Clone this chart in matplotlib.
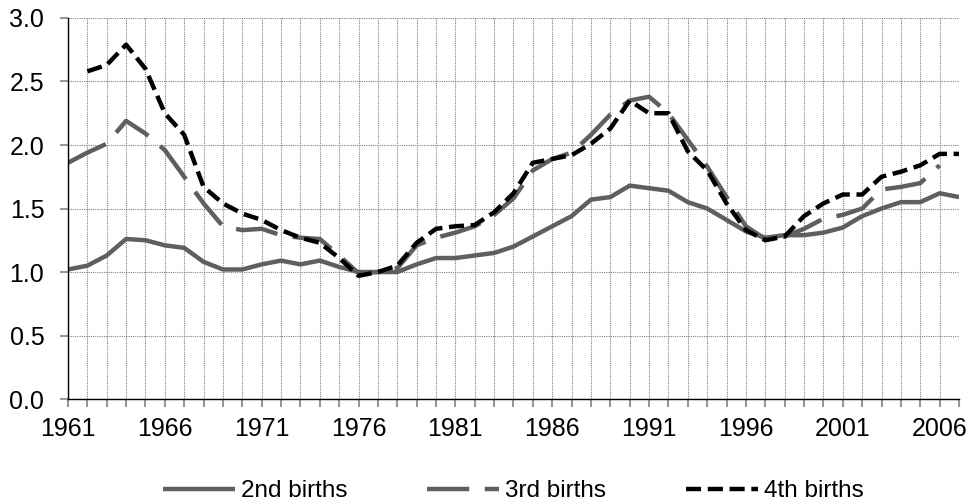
import matplotlib
matplotlib.use("Agg")
import matplotlib.pyplot as plt
import numpy as np

plt.rcParams["font.family"] = ["Liberation Sans", "DejaVu Sans"]

years = list(range(1961, 2008))

births_2nd = [1.02, 1.05, 1.13, 1.26, 1.25, 1.21, 1.19, 1.08, 1.02, 1.02,
              1.06, 1.09, 1.06, 1.09, 1.04, 1.00, 1.00, 1.00, 1.06, 1.11,
              1.11, 1.13, 1.15, 1.20, 1.28, 1.36, 1.44, 1.57, 1.59, 1.68,
              1.66, 1.64, 1.55, 1.50, 1.41, 1.32, 1.27, 1.29, 1.29, 1.31,
              1.35, 1.44, 1.50, 1.55, 1.55, 1.62, 1.59]

births_3rd = [1.86, 1.94, 2.01, 2.19, 2.09, 1.96, 1.75, 1.54, 1.36, 1.33,
              1.34, 1.29, 1.27, 1.26, 1.13, 0.99, 1.00, 1.03, 1.21, 1.27,
              1.31, 1.36, 1.45, 1.58, 1.80, 1.89, 1.94, 2.08, 2.24, 2.35,
              2.38, 2.25, 2.04, 1.83, 1.59, 1.36, 1.26, 1.28, 1.34, 1.42,
              1.45, 1.50, 1.65, 1.67, 1.70, 1.84, np.nan]

births_4th = [np.nan, 2.58, 2.63, 2.79, 2.60, 2.25, 2.08, 1.67, 1.54, 1.46,
              1.41, 1.33, 1.27, 1.23, 1.11, 0.97, 1.00, 1.05, 1.23, 1.34,
              1.36, 1.37, 1.47, 1.62, 1.86, 1.89, 1.92, 2.01, 2.13, 2.35,
              2.25, 2.25, 1.95, 1.80, 1.54, 1.33, 1.25, 1.28, 1.44, 1.54,
              1.61, 1.61, 1.75, 1.79, 1.84, 1.93, 1.93]

tick_years = list(range(1961, 2007, 5))
gray = "#5f5f5f"

fig = plt.figure(figsize=(9.74, 5.04), dpi=100)
ax = fig.add_axes([0.0698, 0.2083, 0.9148, 0.7560])

ax.plot(years, births_2nd, color=gray, lw=3.2, solid_capstyle="butt",
        label="2nd births")
ax.plot(years, births_3rd, color=gray, lw=3.2, dashes=(9.5, 3.5),
        label="3rd births")
ax.plot(years, births_4th, color="black", lw=3.2, dashes=(3.4, 1.5),
        label="4th births")

ax.set_xlim(1961, 2007)
ax.set_ylim(0, 3.0)
ax.set_yticks(np.arange(0, 3.01, 0.5))
ax.set_yticklabels([f"{v:.1f}" for v in np.arange(0, 3.01, 0.5)])
ax.set_xticks(years, minor=True)
ax.set_xticks(tick_years)

ax.grid(True, which="both", axis="x", color="#808080", linestyle=(0, (1, 1)), lw=0.8)
ax.grid(True, which="major", axis="y", color="#808080", linestyle=(0, (1, 1)), lw=0.8)
ax.set_axisbelow(True)

for s in ["top", "right"]:
    ax.spines[s].set_visible(False)
ax.spines["left"].set_linewidth(1.0)
ax.spines["bottom"].set_linewidth(1.0)

ax.tick_params(axis="both", which="major", labelsize=18, direction="out",
               length=6, color="#999999", width=1.5)
ax.tick_params(axis="x", which="major", pad=7)
ax.tick_params(axis="x", which="minor", direction="out", length=6,
               color="#999999", width=1.5)
ax.tick_params(axis="y", pad=11)

ax.legend(loc="center", bbox_to_anchor=(0.5, -0.242), ncol=3,
          frameon=False, fontsize=17.5, handlelength=2.95, handletextpad=0.25,
          columnspacing=3.3, borderpad=0, borderaxespad=0)

plt.savefig("out.png", dpi=100)
